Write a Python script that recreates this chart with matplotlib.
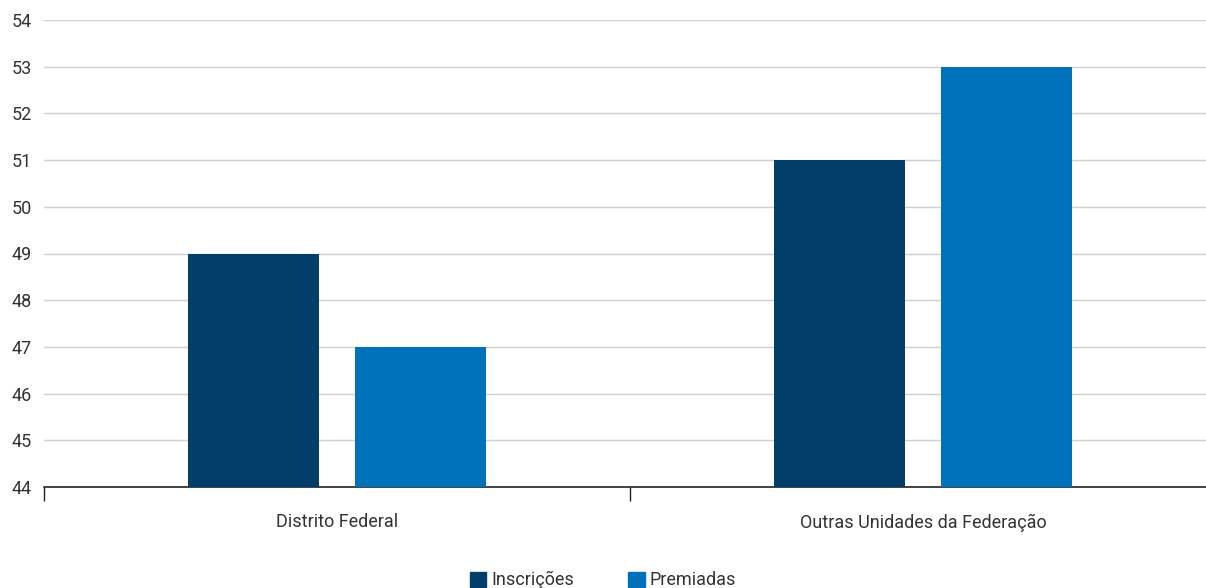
import matplotlib
matplotlib.use("Agg")
import matplotlib.pyplot as plt
import numpy as np

categories = ["Distrito Federal", "Outras Unidades da Federação"]
series_names = ["Inscrições", "Premiadas"]
inscricoes = [49, 51]
premiadas = [47, 53]
colors = ["#023E69", "#0072BC"]

plt.rcParams['font.family'] = ['Roboto', 'DejaVu Sans']

W, H = 1206, 588
fig = plt.figure(figsize=(W/100, H/100), dpi=100)
left = 44 / W
bottom = 1 - 487 / H
width = (1216 - 44) / W
height = (487 - 20) / H
ax = fig.add_axes([left, bottom, width, height])

x = np.arange(len(categories))
bw = 0.2235
off = 0.142
ax.bar(x - off, inscricoes, width=bw, color=colors[0], label=series_names[0], zorder=3)
ax.bar(x + off, premiadas, width=bw, color=colors[1], label=series_names[1], zorder=3)

fs = 13
ax.set_ylim(44, 54)
ax.set_xlim(-0.5, 1.5)
ax.set_yticks(range(44, 55))
ax.yaxis.grid(True, color="#CFCFCF", linewidth=1, zorder=0)
ax.set_axisbelow(True)
for s in ["top", "right", "left"]:
    ax.spines[s].set_visible(False)
ax.spines["bottom"].set_color("#222222")
ax.spines["bottom"].set_linewidth(1.2)
ax.tick_params(axis="y", length=0, pad=9, labelsize=fs, labelcolor="#333333")
ax.set_xticks([-0.5, 0.5, 1.5])
ax.set_xticklabels([])
ax.set_xticks(x, minor=True)
ax.set_xticklabels(categories, minor=True)
ax.tick_params(axis="x", which="major", length=10, width=1, color="#222222")
ax.tick_params(axis="x", which="minor", length=0, pad=19, labelsize=fs, labelcolor="#333333")

handles = [plt.Rectangle((0, 0), 1, 1, color=c) for c in colors]
fig.legend(handles, series_names, loc="lower center", bbox_to_anchor=(0.5, -0.03),
           ncol=2, frameon=False, fontsize=fs, handlelength=0.9, handleheight=0.9,
           handletextpad=0.3, columnspacing=3.0, labelcolor="#333333")

fig.savefig("out.png", dpi=100)
